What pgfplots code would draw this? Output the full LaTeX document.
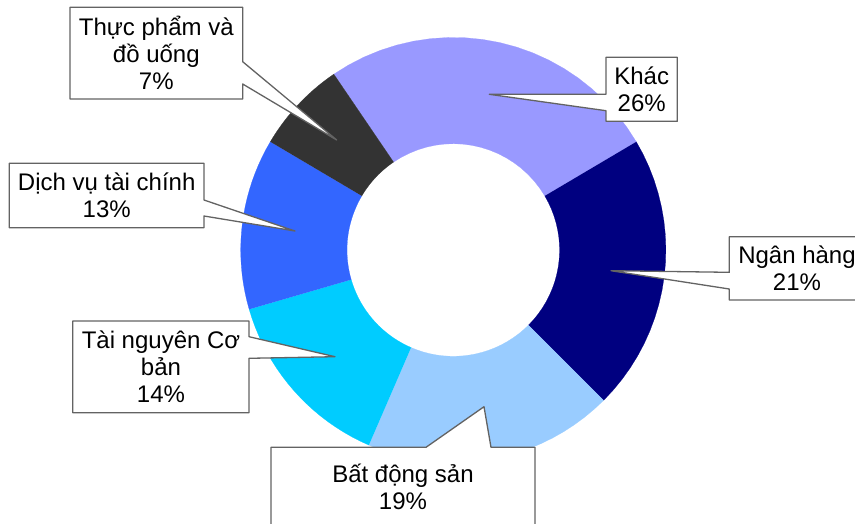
\documentclass[border=0pt]{standalone}
\usepackage{pgfplots}
\pgfplotsset{compat=1.18}
\usepackage{fontspec}
\setmainfont{Liberation Sans}
\definecolor{cKhac}{HTML}{9999FF}
\definecolor{cNH}{HTML}{000080}
\definecolor{cBDS}{HTML}{99CCFF}
\definecolor{cTN}{HTML}{00CCFF}
\definecolor{cDV}{HTML}{3366FF}
\definecolor{cTP}{HTML}{333333}
\definecolor{cBorder}{HTML}{636363}
% #1 start angle (deg, clockwise from here), #2 share in percent, #3 colour
\newcommand\donutslice[3]{%
  \addplot[fill=#3, draw=#3, line width=0.2pt, samples at={0,1,...,40}, variable=\t]
  ({453.3 + (\t<20.5 ? 212.6 : 106.3)*cos(#1 - 3.6*#2*(\t<20.5 ? \t/20 : (40-\t)/19))},
   {250 - (\t<20.5 ? 212.6 : 106.3)*sin(#1 - 3.6*#2*(\t<20.5 ? \t/20 : (40-\t)/19))});
}
\begin{document}
\begin{tikzpicture}
\useasboundingbox (0,0) rectangle (855pt,523pt);
\begin{axis}[at={(0,0)}, anchor=south west, width=855pt, height=523pt, scale only axis,
  xmin=0, xmax=855, ymin=0, ymax=523, y dir=reverse, hide axis, clip=false]
% shares: Khac 26, Ngan hang 21, Bat dong san 19, Tai nguyen Co ban 14, Dich vu tai chinh 13, Thuc pham va do uong 7
\donutslice{124.2}{26}{cKhac}
\donutslice{30.6}{21}{cNH}
\donutslice{-45.0}{19}{cBDS}
\donutslice{-113.4}{14}{cTN}
\donutslice{-163.8}{13}{cDV}
\donutslice{-210.6}{7}{cTP}
% callouts
\tikzset{callout/.style={fill=white, draw=cBorder, line width=1.3pt, line join=round},
  lab/.style={align=center, inner sep=0pt, font=\fontsize{24}{27}\selectfont}}
\draw[callout] (axis cs:70,7.3) -- (axis cs:242.7,7.3) -- (axis cs:242.7,61.7) -- (axis cs:336.7,140)
  -- (axis cs:242.7,84) -- (axis cs:242.7,99) -- (axis cs:70,99) -- cycle;
\node[lab] at (axis cs:156.3,53) {Thực phẩm và\\đồ uống\\7\%};
\draw[callout] (axis cs:9.3,163.3) -- (axis cs:204,163.3) -- (axis cs:204,200) -- (axis cs:295,231)
  -- (axis cs:204,216) -- (axis cs:204,227.7) -- (axis cs:9.3,227.7) -- cycle;
\node[lab] at (axis cs:106.7,195.5) {Dịch vụ tài chính\\13\%};
\draw[callout] (axis cs:606,57.3) -- (axis cs:677.3,57.3) -- (axis cs:677.3,121.3) -- (axis cs:606,121.3)
  -- (axis cs:606,110.7) -- (axis cs:489.3,94.3) -- (axis cs:606,94.3) -- cycle;
\node[lab] at (axis cs:641.7,89.3) {Khác\\26\%};
\draw[callout] (axis cs:729.3,236.7) -- (axis cs:866,236.7) -- (axis cs:866,300) -- (axis cs:729.3,300)
  -- (axis cs:729.3,289) -- (axis cs:611,270.7) -- (axis cs:729.3,272.3) -- cycle;
\node[lab] at (axis cs:797,268.3) {Ngân hàng\\21\%};
\draw[callout] (axis cs:271,447.3) -- (axis cs:426,447.3) -- (axis cs:484,406.7) -- (axis cs:491,447.3)
  -- (axis cs:535,447.3) -- (axis cs:535,530) -- (axis cs:271,530) -- cycle;
\node[lab] at (axis cs:403,486.5) {Bất động sản\\19\%};
\draw[callout] (axis cs:72.7,321) -- (axis cs:249,321) -- (axis cs:249,336.7) -- (axis cs:335,356.7)
  -- (axis cs:249,358.3) -- (axis cs:249,412.7) -- (axis cs:72.7,412.7) -- cycle;
\node[lab] at (axis cs:161,367) {Tài nguyên Cơ\\bản\\14\%};
\end{axis}
\end{tikzpicture}
\end{document}
